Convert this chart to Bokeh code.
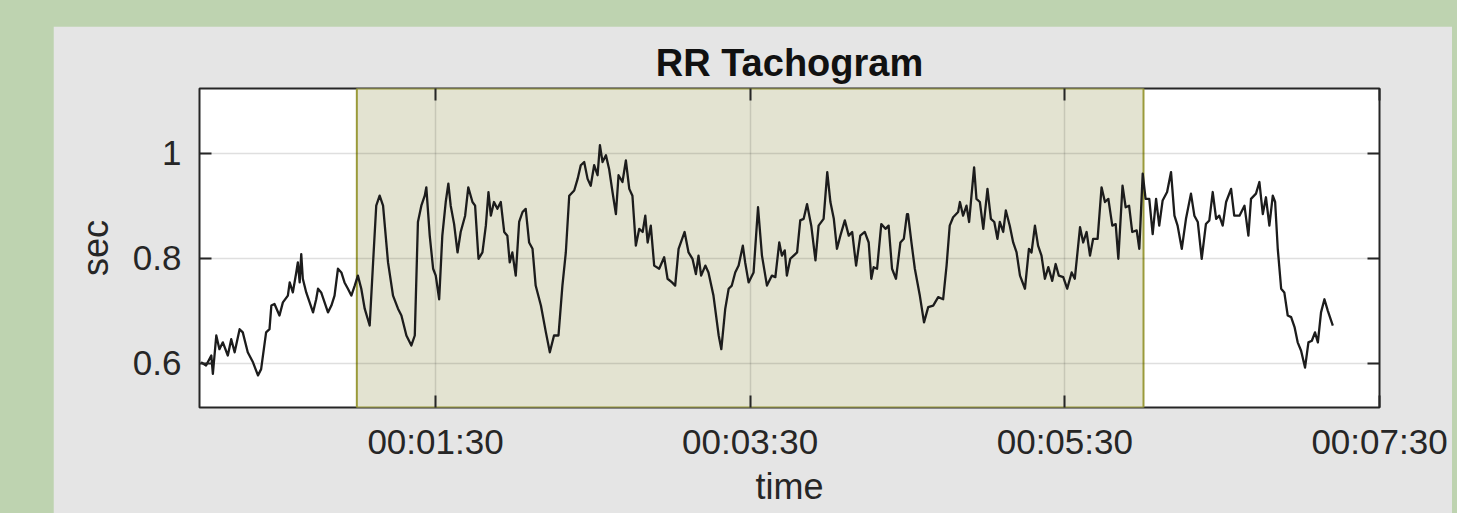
from bokeh.plotting import figure
from bokeh.models import FixedTicker, LinearAxis, GlobalInlineStyleSheet, Range1d, ColumnDataSource
from bokeh.embed import file_html
from bokeh.resources import INLINE

# RR tachogram: time (s) and RR interval (s)
t_sec = [0.6, 2.5, 4.5, 5.1, 6.4, 7.6, 8.9, 10.8, 12.1, 13.4, 15.3, 16.5, 18.4, 20.4, 22.3, 23.5, 25.4, 26.7,
         27.4, 28.6, 30.5, 31.8, 33.7, 34.4, 35.6, 36.9, 37.5, 38.2, 38.8, 39.4, 40.7, 42.0, 43.3, 44.5, 45.2,
         46.4, 47.7, 49.0, 50.3, 51.5, 52.8, 54.1, 55.3, 56.6, 57.9, 59.2, 60.4, 61.7, 63.0, 64.9, 66.2, 67.4,
         68.7, 70.0, 71.9, 73.8, 75.7, 77.0, 78.9, 80.8, 82.1, 83.3, 84.6, 85.9, 86.5, 87.8, 89.1,
         90.1, 91.4, 92.6, 93.9, 94.9, 95.8, 97.1, 98.4, 99.6, 101.3, 102.5, 104.1, 105.1, 106.4, 107.9, 109.2,
         110.2, 111.1, 112.3, 113.6, 114.9, 116.2, 117.4, 118.3, 119.3, 120.6, 121.9, 123.2, 124.4, 125.7,
         127.0, 128.2, 130.2, 132.1, 133.6, 135.2, 136.9, 138.4, 139.7, 141.0, 142.9, 144.2, 145.4, 146.7,
         148.0, 149.2, 150.5, 151.8, 152.7, 153.7, 155.0, 156.2, 157.5, 158.8, 159.8, 161.3, 162.6, 163.9,
         165.1, 166.4, 167.7, 169.0, 170.0, 170.9, 172.1, 173.4, 175.3, 177.2, 178.5,
         180.2, 181.4, 182.7, 185.0, 186.5, 188.0, 189.3, 190.3, 191.3, 192.9, 194.1, 196.0, 198.0, 199.0,
         200.5, 201.8, 203.0, 204.3, 205.6, 207.2, 208.1, 209.4, 211.3, 213.0, 214.5, 216.4, 218.3, 219.6,
         221.1, 222.1, 223.2, 224.0, 225.3, 226.6, 227.9, 229.1, 230.4, 231.7, 233.3, 234.9, 236.1, 238.0,
         239.4, 240.6, 241.9, 243.1, 244.4, 246.1, 247.6, 248.9, 250.4, 252.0, 253.7, 255.2, 256.2, 257.1,
         258.4, 260.0, 261.6, 262.8, 264.1, 265.6, 267.3, 268.6, 269.8,
         270.2, 271.5, 272.8, 274.7, 276.3, 277.9, 279.8, 281.7, 283.6, 284.9, 286.1, 287.4, 289.3, 290.0,
         291.2, 292.5, 293.5, 294.4, 295.4, 296.3, 297.6, 298.9, 300.5, 301.8, 303.1, 304.3, 305.2, 306.5,
         307.5, 309.0, 310.3, 311.6, 312.9, 314.8, 316.3, 317.3, 318.6, 319.8, 321.1, 322.4, 323.7, 325.2,
         326.5, 327.7, 329.4, 330.9, 332.6, 333.8, 335.8, 337.0, 338.3, 339.6, 340.8, 342.5, 344.0, 345.3,
         346.6, 348.1, 349.4, 350.4, 352.0, 353.2, 354.5, 355.7, 357.4, 358.4, 359.7, 360.8,
         362.2, 363.5, 364.8, 366.0, 367.3, 369.0, 370.5, 371.8, 373.0, 374.6, 376.2, 378.1, 379.4, 380.7,
         382.2, 383.8, 385.1, 386.4, 387.7, 388.9, 390.2, 391.5, 393.4, 394.6, 396.6, 398.5, 400.0, 401.0,
         402.9, 404.2, 405.5, 406.7, 408.0, 409.3, 410.2, 411.2, 412.5, 413.7, 415.0, 416.3, 417.6, 418.8,
         420.1, 421.6, 422.9, 424.2, 425.4, 426.5, 427.7, 429.0, 430.3, 432.2]
rr_sec = [0.602, 0.596, 0.615, 0.580, 0.653, 0.627, 0.640, 0.615, 0.646, 0.621, 0.665, 0.659, 0.621, 0.602,
          0.577, 0.589, 0.659, 0.665, 0.710, 0.713, 0.691, 0.716, 0.729, 0.754, 0.735, 0.773, 0.792, 0.754,
          0.808, 0.761, 0.735, 0.716, 0.697, 0.722, 0.742, 0.735, 0.716, 0.697, 0.710, 0.729, 0.780, 0.773,
          0.754, 0.742, 0.729, 0.748, 0.767, 0.742, 0.704, 0.672, 0.792, 0.900, 0.919, 0.900, 0.792, 0.729,
          0.704, 0.691, 0.653, 0.634, 0.653, 0.869, 0.900, 0.919, 0.935, 0.843, 0.780,
          0.767, 0.722, 0.843, 0.907, 0.942, 0.900, 0.865, 0.811, 0.850, 0.881, 0.935, 0.907, 0.900, 0.799,
          0.811, 0.862, 0.926, 0.881, 0.907, 0.894, 0.907, 0.850, 0.843, 0.792, 0.811, 0.767, 0.869, 0.888,
          0.894, 0.830, 0.818, 0.748, 0.710, 0.659, 0.621, 0.653, 0.653, 0.748, 0.811, 0.919, 0.929, 0.951,
          0.977, 0.983, 0.951, 0.938, 0.977, 0.958, 1.015, 0.983, 0.996, 0.970, 0.926, 0.884, 0.958, 0.945,
          0.986, 0.932, 0.919, 0.824, 0.856, 0.850, 0.881, 0.830, 0.862, 0.786, 0.780, 0.802, 0.761,
          0.754, 0.748, 0.818, 0.850, 0.811, 0.799, 0.770, 0.805, 0.767, 0.786, 0.773, 0.729, 0.653, 0.627,
          0.704, 0.742, 0.748, 0.773, 0.786, 0.824, 0.792, 0.754, 0.773, 0.897, 0.805, 0.748, 0.767, 0.764,
          0.830, 0.805, 0.815, 0.767, 0.799, 0.805, 0.811, 0.872, 0.875, 0.903, 0.862, 0.796, 0.862, 0.875,
          0.964, 0.907, 0.875, 0.818, 0.843, 0.872, 0.843, 0.850, 0.786, 0.843, 0.850, 0.830, 0.761, 0.783,
          0.780, 0.865, 0.856, 0.862, 0.780, 0.761, 0.830, 0.837, 0.884,
          0.884, 0.830, 0.780, 0.729, 0.678, 0.707, 0.710, 0.726, 0.722, 0.786, 0.862, 0.878, 0.888, 0.907,
          0.881, 0.900, 0.869, 0.919, 0.973, 0.913, 0.907, 0.856, 0.932, 0.875, 0.869, 0.837, 0.869, 0.850,
          0.891, 0.862, 0.830, 0.811, 0.767, 0.742, 0.818, 0.811, 0.862, 0.824, 0.805, 0.761, 0.783, 0.757,
          0.789, 0.767, 0.764, 0.742, 0.773, 0.761, 0.859, 0.830, 0.850, 0.805, 0.837, 0.837, 0.935, 0.907,
          0.913, 0.862, 0.865, 0.799, 0.938, 0.897, 0.900, 0.850, 0.853, 0.818, 0.961, 0.913,
          0.913, 0.846, 0.913, 0.862, 0.910, 0.926, 0.964, 0.881, 0.862, 0.818, 0.875, 0.923, 0.881, 0.869,
          0.799, 0.865, 0.872, 0.926, 0.875, 0.881, 0.862, 0.907, 0.932, 0.881, 0.881, 0.900, 0.843, 0.913,
          0.923, 0.945, 0.884, 0.916, 0.862, 0.919, 0.907, 0.818, 0.742, 0.735, 0.691, 0.688, 0.669, 0.640,
          0.624, 0.592, 0.640, 0.643, 0.659, 0.640, 0.697, 0.722, 0.700, 0.672]

# analysis window (s) and axis setup
window_start = [60]
window_end = [360]
x_limits = [0, 450]
y_limits = [0.516, 1.123]
x_ticks = [90, 210, 330, 450]
x_tick_labels = ["00:01:30", "00:03:30", "00:05:30", "00:07:30"]
y_ticks = [0.6, 0.8, 1.0]
y_tick_labels = ["0.6", "0.8", "1"]

FONT = "Liberation Sans"
TXT = "#262626"

p = figure(width=1399, height=487, output_backend="svg", toolbar_location=None,
           x_range=Range1d(*x_limits), y_range=Range1d(*y_limits),
           min_border_left=146, min_border_right=73, min_border_top=62, min_border_bottom=106,
           title="RR Tachogram")
p.stylesheets.append(GlobalInlineStyleSheet(
    css="html,body{background:#bed3b0;} body{margin:26px 0 0 53px;}"))

p.background_fill_color = "white"
p.border_fill_color = "#e5e5e5"
p.outline_line_color = TXT
p.outline_line_width = 2

p.title.align = "center"
p.title.text_font = FONT
p.title.text_font_size = "38px"
p.title.text_font_style = "bold"
p.title.text_color = "#111111"
p.title.standoff = 10

# shaded analysis window
win = ColumnDataSource(dict(left=window_start, right=window_end,
                            bottom=[y_limits[0]], top=[y_limits[1]]))
p.quad(left="left", right="right", bottom="bottom", top="top", source=win,
       fill_color="#e3e3d1", line_color="#9a9a3a", line_width=2)

p.line(t_sec, rr_sec, line_color="#1c1c1c", line_width=2.3, line_join="round")

for g in (p.xgrid, p.ygrid):
    g.level = "guide"
    g.grid_line_color = "#262626"
    g.grid_line_alpha = 0.15
    g.grid_line_width = 1.5
p.xgrid.ticker = FixedTicker(ticks=x_ticks)
p.ygrid.ticker = FixedTicker(ticks=y_ticks)

def style_axis(ax, ticks, labels, show_labels=True):
    ax.ticker = FixedTicker(ticks=ticks)
    ax.major_label_overrides = {tk: (lb if show_labels else "") for tk, lb in zip(ticks, labels)}
    ax.axis_line_color = None
    ax.major_tick_line_color = TXT
    ax.major_tick_line_width = 2
    ax.major_tick_in = 12
    ax.major_tick_out = 0
    ax.minor_tick_line_color = None
    ax.major_label_text_font = FONT
    ax.major_label_text_font_size = "35px"
    ax.major_label_text_color = TXT
    ax.axis_label_text_font = FONT
    ax.axis_label_text_font_size = "36px"
    ax.axis_label_text_font_style = "normal"
    ax.axis_label_text_color = TXT

style_axis(p.xaxis[0], x_ticks, x_tick_labels)
style_axis(p.yaxis[0], y_ticks, y_tick_labels)
p.xaxis[0].axis_label = "time"
p.yaxis[0].axis_label = "sec"
p.xaxis[0].major_label_standoff = 14
p.xaxis[0].axis_label_standoff = 2
p.yaxis[0].major_label_standoff = 18
p.yaxis[0].axis_label_standoff = 14

top_ax = LinearAxis()
right_ax = LinearAxis()
style_axis(top_ax, x_ticks, x_tick_labels, show_labels=False)
style_axis(right_ax, y_ticks, y_tick_labels, show_labels=False)
top_ax.major_label_text_font_size = "0px"
right_ax.major_label_text_font_size = "0px"
p.add_layout(top_ax, "above")
p.add_layout(right_ax, "right")

open("out.html", "w").write(file_html(p, INLINE))
